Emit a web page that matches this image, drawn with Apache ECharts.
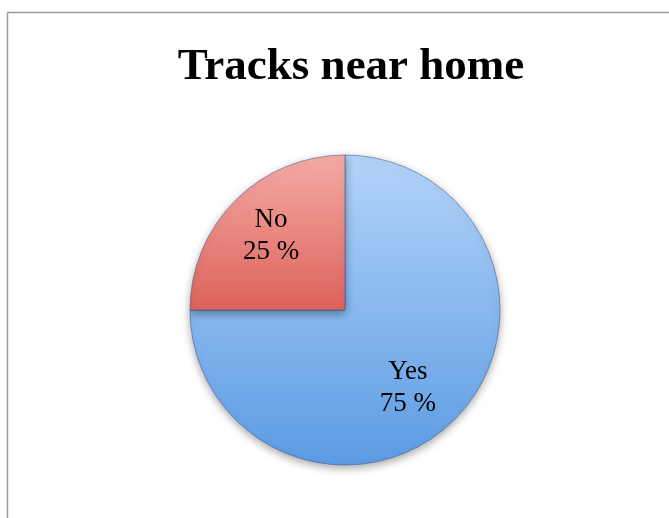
<!DOCTYPE html>
<html>
<head>
<meta charset="utf-8">
<script src="https://cdn.jsdelivr.net/npm/echarts@6/dist/echarts.min.js"></script>
<style>
  html, body { margin: 0; padding: 0; background: #fff; }
  #chart { width: 669px; height: 518px; }
</style>
</head>
<body>
<div id="chart"></div>
<script>
    // chart data
    const categories = ['Yes', 'No'];
    const values = [75, 25];
    const sliceColors = [
        ['#b3d4f9', '#5c9be3'],
        ['#f5aba6', '#dc625a']
    ];
    // label nudges to sit where the original puts them
    const labelShift = [[6, 21], [-17, -17]];

    const chart = echarts.init(document.getElementById('chart'), null, {renderer: 'canvas'});

    const data = categories.map((name, i) => ({
        name: name,
        value: values[i],
        itemStyle: {
            color: {
                type: 'linear', x: 0, y: 0, x2: 0, y2: 1,
                colorStops: [
                    {offset: 0, color: sliceColors[i][0]},
                    {offset: 1, color: sliceColors[i][1]}
                ]
            }
        }
    }));

    chart.setOption({
        animation: false,
        backgroundColor: '#fff',
        title: {
            text: 'Tracks near home',
            left: 346,
            textAlign: 'center',
            top: 40,
            textStyle: {
                fontFamily: 'Liberation Serif',
                fontWeight: 'bold',
                fontSize: 45,
                color: '#000'
            }
        },
        graphic: [
            {type: 'line', shape: {x1: 7.5, y1: 12.5, x2: 669, y2: 12.5}, style: {stroke: '#9a9a9a', lineWidth: 1.5}},
            {type: 'line', shape: {x1: 7.5, y1: 12.5, x2: 7.5, y2: 518}, style: {stroke: '#9a9a9a', lineWidth: 1.5}}
        ],
        series: [{
            type: 'pie',
            center: [345, 310],
            radius: [0, 155],
            startAngle: 90,
            clockwise: true,
            data: data,
            itemStyle: {
                borderColor: 'rgba(50,80,130,0.5)',
                borderWidth: 1,
                shadowColor: 'rgba(0,0,0,0.35)',
                shadowBlur: 8,
                shadowOffsetY: 3
            },
            label: {
                show: true,
                position: 'inside',
                formatter: p => p.name + '\n' + p.value + ' %',
                fontFamily: 'Liberation Serif',
                fontSize: 27,
                lineHeight: 32,
                color: '#000'
            },
            labelLine: {show: false},
            labelLayout: function (params) {
                const s = labelShift[params.dataIndex];
                return {dx: s[0], dy: s[1]};
            },
            emphasis: {disabled: true}
        }]
    });
</script>
</body>
</html>
